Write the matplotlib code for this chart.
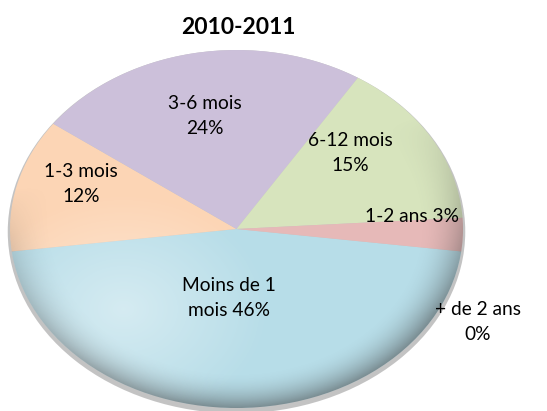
import numpy as np
import matplotlib
matplotlib.use("Agg")
import matplotlib.pyplot as plt
from matplotlib.patches import Ellipse

# ---- data ----
categories = ["Moins de 1 mois", "1-3 mois", "3-6 mois", "6-12 mois", "1-2 ans", "+ de 2 ans"]
values = [46, 12, 24, 15, 3, 0]
label_texts = ["Moins de 1\nmois 46%", "1-3 mois\n12%", "3-6 mois\n24%",
               "6-12 mois\n15%", "1-2 ans 3%", "+ de 2 ans\n0%"]
title = "2010-2011"

# ---- style / layout ----
colors = ["#b7dde8", "#fcd5b5", "#ccc0da", "#d7e4bd", "#e6b9b8", "#c0c0c0"]
W, H = 547, 411
# label centres in pixels (x, y from top)
label_px = [(229, 298), (81, 184), (205, 116), (350, 153), (412, 216), (478, 322)]
cx, cy, rx, ry = 236.5, 229.0, 226.5, 179.0

plt.rcParams['font.family'] = ['Lato', 'DejaVu Sans']
fig = plt.figure(figsize=(W / 100, H / 100), dpi=100)
ax = fig.add_axes([0, 0, 1, 1])

total = sum(values)
mo_frac = values[0] / total
startangle = 270 + mo_frac * 360 / 2
wedges, _ = ax.pie(values, colors=colors, startangle=startangle, counterclock=False,
                   radius=1.0, wedgeprops=dict(linewidth=0))
for w in wedges:
    w.set_zorder(1)

# shadow
ax.add_patch(Ellipse((0.0, -0.015), 2.02, 2.03, color="#555555", alpha=0.35, zorder=0, lw=0))

# 3D-ish shading overlay
nx, ny = 400, 400
xs = np.linspace(-1, 1, nx)
ys = np.linspace(-1, 1, ny)
X, Y = np.meshgrid(xs, ys)
R = np.sqrt(X**2 + Y**2)
dark = np.clip((R - 0.8) / 0.2, 0, 1) ** 2 * np.clip(0.4 - Y * 0.9 + X * 0.2, 0, 1)
light = np.clip(0.65 - np.sqrt((X + 0.5)**2 + (Y + 0.45)**2), 0, 1)
rgba = np.zeros((ny, nx, 4))
rgba[..., 0:3] = 0.25
rgba[..., 3] = 0.5 * dark
img = ax.imshow(rgba, extent=(-1, 1, -1, 1), origin='lower', zorder=2, aspect='auto',
                interpolation='bilinear')
img.set_clip_path(Ellipse((0, 0), 2, 2, transform=ax.transData))
rgba2 = np.ones((ny, nx, 4))
rgba2[..., 3] = 0.65 * light
img2 = ax.imshow(rgba2, extent=(-1, 1, -1, 1), origin='lower', zorder=2, aspect='auto',
                 interpolation='bilinear')
img2.set_clip_path(Ellipse((0, 0), 2, 2, transform=ax.transData))

ax.set_aspect('auto')
ax.set_xlim((0 - cx) / rx, (W - cx) / rx)
ax.set_ylim(-(H - cy) / ry, cy / ry)
ax.axis('off')

for txt, (px, py) in zip(label_texts, label_px):
    fig.text(px / W, 1 - py / H, txt, ha='center', va='center', fontsize=13.8,
             color='black', linespacing=1.6, zorder=5)

fig.text(238 / W, 1 - 27 / H, title, ha='center', va='center', fontsize=16.5,
         fontweight='bold')

fig.savefig("out.png", dpi=100)
